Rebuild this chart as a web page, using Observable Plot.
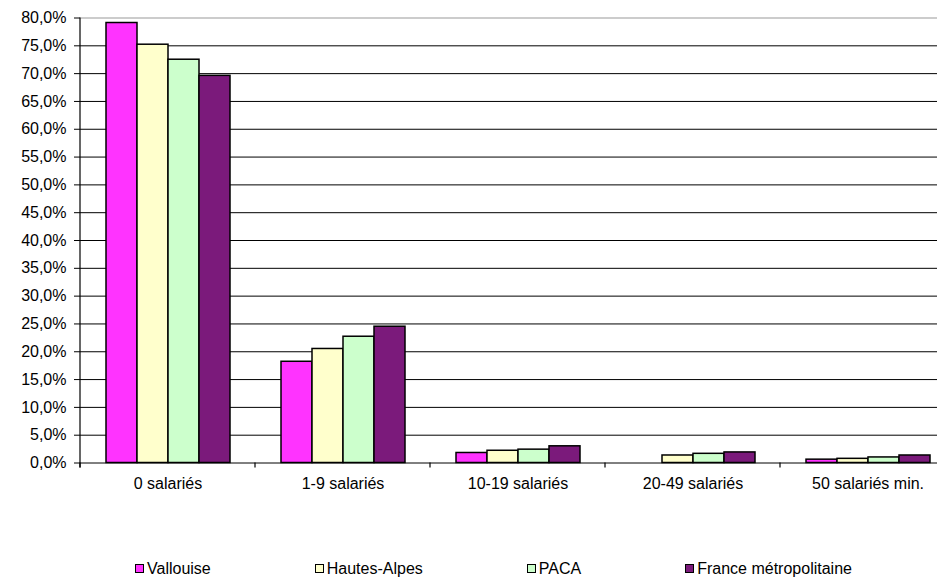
<!DOCTYPE html>
<html>
<head>
<meta charset="utf-8">
<script src="https://cdn.jsdelivr.net/npm/d3@7"></script>
<script src="https://cdn.jsdelivr.net/npm/@observablehq/plot@0.6"></script>
<style>
  html, body { margin: 0; padding: 0; background: #fff; overflow: hidden; }
  #wrap { position: relative; width: 937px; height: 577px; overflow: hidden; font-family: "Liberation Sans", Arial, sans-serif; }
  #chart { position: absolute; left: 0; top: 0; width: 937px; overflow: hidden; }
  #legend { position: absolute; left: 135px; top: 559px; display: flex; gap: 104px; font-size: 16px; line-height: 20px; color: #000; }
  .item { display: flex; align-items: center; white-space: nowrap; }
  .swatch { width: 7px; height: 7px; border: 1px solid #000; margin-right: 3px; margin-top: -1px; }
</style>
</head>
<body>
<div id="wrap">
  <div id="chart"></div>
  <div id="legend"></div>
</div>
<script>
// Size classes of establishments (number of employees)
const categories = ["0 salariés", "1-9 salariés", "10-19 salariés", "20-49 salariés", "50 salariés min."];

// Territories compared
const series = ["Vallouise", "Hautes-Alpes", "PACA", "France métropolitaine"];

// Share of establishments in each size class (%)
const vallouise = [79.1, 18.2, 1.8, 0.0, 0.6];
const hautesAlpes = [75.2, 20.5, 2.2, 1.35, 0.75];
const paca = [72.5, 22.7, 2.4, 1.65, 1.0];
const france = [69.6, 24.5, 3.0, 1.9, 1.35];

const colors = ["#ff33ff", "#ffffcc", "#ccffcc", "#7b1a7b"];

// Y axis tick values (%)
const yTicks = [0, 5, 10, 15, 20, 25, 30, 35, 40, 45, 50, 55, 60, 65, 70, 75, 80];

const seriesValues = [vallouise, hautesAlpes, paca, france];
const rows = [];
categories.forEach((c, i) => {
  series.forEach((s, j) => rows.push({category: c, series: s, value: seriesValues[j][i]}));
});

const fmt = (d) => d.toFixed(1).replace(".", ",") + "%";

const plot = Plot.plot({
  width: 956,
  height: 500,
  marginLeft: 78,
  marginRight: 0,
  marginTop: 17.5,
  marginBottom: 37.5,
  style: {
    fontFamily: "Liberation Sans, Arial, sans-serif",
    fontSize: "16px",
    background: "white",
    color: "black",
    maxWidth: "none",
    overflow: "visible"
  },
  fx: {domain: categories, padding: 0, label: null, tickSize: 0, tickPadding: 15},
  x: {domain: series, padding: 0, insetLeft: 24.5, insetRight: 23.5, axis: null},
  y: {domain: [0, 80], ticks: yTicks, tickFormat: fmt, tickSize: 6, tickPadding: 8, label: null},
  color: {domain: series, range: colors},
  marks: [
    Plot.ruleY(yTicks.filter((t) => t > 0 && t < 80), {stroke: "#000", strokeWidth: 1}),
    Plot.ruleY([80], {stroke: "#999", strokeWidth: 1}),
    Plot.barY(rows, {
      fx: "category",
      x: "series",
      y: "value",
      fill: "series",
      stroke: "#000",
      strokeWidth: 1.5
    }),
    Plot.ruleY([0], {stroke: "#000", strokeWidth: 1})
  ]
});

// Value axis line and category separators on the baseline
const svg = d3.select(plot.tagName === "svg" ? plot : plot.querySelector("svg"));
const fx = plot.scale("fx");
const y = plot.scale("y");
const y0 = y.apply(0);
const yTop = y.apply(80);
const bounds = categories.map((c) => fx.apply(c)).concat([fx.apply(categories[categories.length - 1]) + fx.bandwidth]);
const g = svg.append("g").attr("stroke", "#000").attr("stroke-width", 1.2);
g.append("line").attr("x1", bounds[0]).attr("x2", bounds[0]).attr("y1", yTop).attr("y2", y0 + 5);
bounds.forEach((b) => {
  g.append("line").attr("x1", b).attr("x2", b).attr("y1", y0).attr("y2", y0 + 5);
});

document.getElementById("chart").appendChild(plot);

// Legend beneath the chart
const legend = d3.select("#legend");
series.forEach((s, i) => {
  const item = legend.append("div").attr("class", "item");
  item.append("div").attr("class", "swatch").style("background", colors[i]);
  item.append("span").text(s);
});
</script>
</body>
</html>
